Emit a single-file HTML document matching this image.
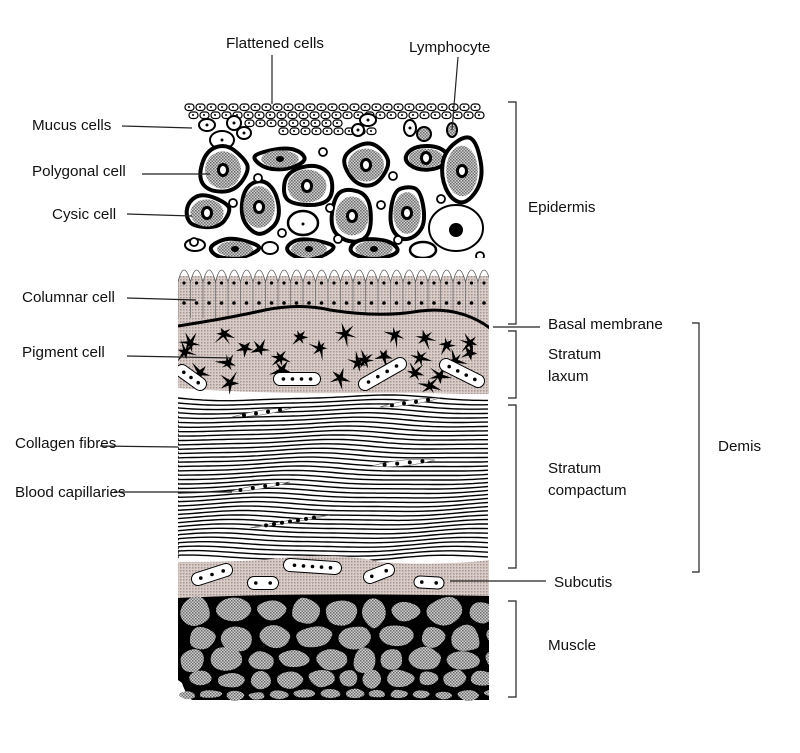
<!DOCTYPE html>
<html><head><meta charset="utf-8"><style>
html,body{margin:0;padding:0;background:#fff;}
svg{display:block;}
text{font-family:"Liberation Sans",sans-serif;font-size:15.2px;fill:#111;}
</style></head><body>
<svg id="s" width="800" height="753" viewBox="0 0 800 753" xmlns="http://www.w3.org/2000/svg">
<defs>
<pattern id="pk" width="3" height="3" patternUnits="userSpaceOnUse"><rect width="3" height="3" fill="#d8ccc8"/><rect width="1.5" height="1.5" fill="#a8958f"/></pattern>
<pattern id="gr" width="3" height="3" patternUnits="userSpaceOnUse"><rect width="3" height="3" fill="#d0d0d0"/><rect width="1.5" height="1.5" fill="#6a6a6a"/><rect x="1.5" y="1.5" width="1.5" height="1.5" fill="#777"/></pattern>
<clipPath id="cl"><rect x="178" y="0" width="311" height="753"/></clipPath>
</defs>
<g id="g" clip-path="url(#cl)"></g>
<g stroke="#222" stroke-width="1.2" fill="none">
<line x1="272" y1="55" x2="272" y2="104"/>
<line x1="458" y1="57" x2="452" y2="130"/>
<line x1="122" y1="126" x2="192" y2="128"/>
<line x1="142" y1="174" x2="210" y2="174"/>
<line x1="127" y1="214" x2="192" y2="216"/>
<line x1="127" y1="298" x2="196" y2="300"/>
<line x1="127" y1="356" x2="232" y2="358"/>
<line x1="100" y1="446" x2="178" y2="447"/>
<line x1="114" y1="492" x2="232" y2="492"/>
<line x1="493" y1="327" x2="540" y2="327"/>
<line x1="450" y1="581" x2="546" y2="581"/>
<polyline points="508,102 516,102 516,324 508,324"/>
<polyline points="508,331 516,331 516,398 508,398"/>
<polyline points="508,405 516,405 516,568 508,568"/>
<polyline points="508,601 516,601 516,697 508,697"/>
<polyline points="692,323 699,323 699,572 692,572"/>
</g>
<text x="226" y="48">Flattened cells</text>
<text x="409" y="52">Lymphocyte</text>
<text x="32" y="130">Mucus cells</text>
<text x="32" y="176">Polygonal cell</text>
<text x="52" y="219">Cysic cell</text>
<text x="22" y="302">Columnar cell</text>
<text x="22" y="357">Pigment cell</text>
<text x="15" y="448">Collagen fibres</text>
<text x="15" y="497">Blood capillaries</text>
<text x="528" y="212">Epidermis</text>
<text x="548" y="329">Basal membrane</text>
<text x="548" y="359">Stratum</text>
<text x="548" y="381">laxum</text>
<text x="548" y="473">Stratum</text>
<text x="548" y="495">compactum</text>
<text x="718" y="451">Demis</text>
<text x="554" y="587">Subcutis</text>
<text x="548" y="650">Muscle</text>
</svg>
<script>
var g=document.getElementById('g'),h='';
var sd=7;function r(){sd=(sd*16807)%2147483647;return sd/2147483647;}
for(var row=0;row<4;row++){var y=104+row*8,x0=185+(row%2)*4;var n=row<2?27:14;for(var i=0;i<n;i++){var x=x0+i*11;if(row>=2)x+=row==2?60:90;if(row>=2&&i>8)continue;h+='<rect x="'+x+'" y="'+y+'" width="9" height="6.5" rx="3" fill="#fff" stroke="#000" stroke-width="1.2"/><circle cx="'+(x+4)+'" cy="'+(y+3)+'" r="1" fill="#000"/>';}}
[[207,125,8,6],[222,140,12,9],[234,123,7,7],[244,133,7,6],[358,130,6,6],[368,120,8,6],[410,128,6,8],[424,134,7,7],[452,130,5,7]].forEach(function(c,i){h+='<ellipse cx="'+c[0]+'" cy="'+c[1]+'" rx="'+c[2]+'" ry="'+c[3]+'" fill="'+(i>=7?'url(#gr)':'#fff')+'" stroke="#000" stroke-width="2"/>';if(i<7)h+='<circle cx="'+c[0]+'" cy="'+c[1]+'" r="1.5" fill="#000"/>';});
function blob(cx,cy,rx,ry){var pts=[],k,n=7;for(k=0;k<n;k++){var a=k*2*Math.PI/n+r()*0.5,f=0.92+r()*0.16;pts.push([cx+rx*f*Math.cos(a),cy+ry*f*Math.sin(a)]);}var d='';for(k=0;k<n;k++){var p=pts[k],q=pts[(k+1)%n];var m=[(p[0]+q[0])/2,(p[1]+q[1])/2];if(k==0){var pm=pts[n-1];d='M'+((pm[0]+p[0])/2).toFixed(1)+','+((pm[1]+p[1])/2).toFixed(1);}d+=' Q'+p[0].toFixed(1)+','+p[1].toFixed(1)+' '+m[0].toFixed(1)+','+m[1].toFixed(1);}return d+'Z';}
var C=[[223,170,25,26],[280,159,26,12],[307,186,27,23],[366,165,25,23],[426,158,24,13],[462,171,22,35],[207,213,23,19],[259,207,22,29],[352,216,23,27],[407,213,19,29],[235,249,25,11],[309,249,25,11],[374,249,26,11]];
C.forEach(function(c){h+='<path d="'+blob(c[0],c[1],c[2],c[3])+'" fill="#fff" stroke="#000" stroke-width="4"/><ellipse cx="'+c[0]+'" cy="'+c[1]+'" rx="'+(c[2]*0.72)+'" ry="'+(c[3]*0.72)+'" fill="url(#gr)"/>';if(c[3]>12)h+='<ellipse cx="'+c[0]+'" cy="'+c[1]+'" rx="6" ry="7" fill="#000"/><ellipse cx="'+c[0]+'" cy="'+c[1]+'" rx="3" ry="4" fill="#fff"/>';else h+='<ellipse cx="'+c[0]+'" cy="'+c[1]+'" rx="4" ry="3" fill="#000"/>';});
h+='<ellipse cx="303" cy="223" rx="15" ry="12" fill="#fff" stroke="#000" stroke-width="2.5"/><circle cx="303" cy="224" r="1.5"/>';
h+='<ellipse cx="456" cy="228" rx="27" ry="23" fill="#fff" stroke="#000" stroke-width="2"/><circle cx="456" cy="230" r="7" fill="#000"/>';
h+='<ellipse cx="423" cy="250" rx="13" ry="8" fill="#fff" stroke="#000" stroke-width="2.5"/><ellipse cx="195" cy="245" rx="10" ry="6" fill="#fff" stroke="#000" stroke-width="2"/><ellipse cx="270" cy="248" rx="8" ry="6" fill="#fff" stroke="#000" stroke-width="2"/>';
[[323,152],[258,178],[233,203],[282,233],[330,208],[393,176],[381,205],[338,239],[398,240],[441,199],[194,242],[480,256]].forEach(function(p){h+='<circle cx="'+p[0]+'" cy="'+p[1]+'" r="4" fill="#fff" stroke="#000" stroke-width="1.8"/>';});
h+='<rect x="178" y="276" width="312" height="60" fill="url(#pk)"/>';
var p='M178,282';for(var x=178;x<490;x+=12.5){p+=' Q'+(x+6)+',258 '+(x+12.5)+',282';}
h+='<path d="'+p+' L490,258 L178,258Z" fill="#fff"/><path d="'+p+'" fill="none" stroke="#555" stroke-width="0.8"/>';
for(var x=178;x<490;x+=12.5){h+='<line x1="'+x+'" y1="282" x2="'+x+'" y2="318" stroke="#666" stroke-width="0.7"/><circle cx="'+(x+6)+'" cy="283" r="1.6"/><circle cx="'+(x+6)+'" cy="303" r="1.8"/>';}
h+='<path d="M178,326 Q230,318 265,310 Q300,303 330,310 Q380,318 420,311 Q460,306 490,328 L490,395 Q420,392 350,393 Q260,394 178,388Z" fill="url(#pk)"/>';
h+='<path d="M178,326 Q230,318 265,310 Q300,303 330,310 Q380,318 420,311 Q460,306 490,328" fill="none" stroke="#000" stroke-width="3"/>';
function star(cx,cy,s){var q='';var n=5+Math.floor(r()*2);for(var k=0;k<2*n;k++){var a=k*Math.PI/n+r()*0.4,rr=(k%2?s*0.3:s*(0.7+r()*0.7));q+=(cx+rr*Math.cos(a)).toFixed(1)+','+(cy+rr*Math.sin(a)).toFixed(1)+' ';}return '<polygon points="'+q+'" fill="#000"/>';}
[[190,335],[224,326],[245,340],[300,329],[345,326],[395,327],[425,330],[447,337],[470,335],[185,344],[228,355],[260,341],[280,350],[320,340],[358,355],[384,348],[420,350],[455,353],[470,345],[200,365],[230,375],[282,362],[340,370],[365,352],[415,365],[430,378],[440,368]].forEach(function(s){h+=star(s[0],s[1]+8,10);});
function cap(x1,y1,x2,y2,w,n){var d='<line x1="'+x1+'" y1="'+y1+'" x2="'+x2+'" y2="'+y2+'" stroke="#000" stroke-width="'+(w+2)+'" stroke-linecap="round"/><line x1="'+x1+'" y1="'+y1+'" x2="'+x2+'" y2="'+y2+'" stroke="#fff" stroke-width="'+w+'" stroke-linecap="round"/>';for(var k=0;k<n;k++){var t=n==1?0.5:k/(n-1)*0.8+0.1;d+='<circle cx="'+(x1+(x2-x1)*t)+'" cy="'+(y1+(y2-y1)*t)+'" r="1.8"/>';}return d;}
h+=cap(182,371,200,384,12,3)+cap(280,379,314,379,12,4)+cap(365,384,400,364,12,4)+cap(446,365,478,381,12,4);
h+='<rect x="178" y="394" width="312" height="166" fill="#fff"/>';
for(var i=0;i<37;i++){var y=398+i*4.45;var ph=i*0.12;var d='M178,'+y.toFixed(1);for(var x=178;x<=492;x+=5){var yy=y+2.5*Math.sin((x-178)/42+ph)+0.7*Math.sin((x-178)/20+i*0.3);d+=' L'+x+','+yy.toFixed(1);}h+='<path d="'+d+'" fill="none" stroke="#000" stroke-width="1.4"/>';}
function cap2(x1,y1,x2,y2,n){var d='<path d="M'+x1+','+y1+' Q'+((x1+x2)/2)+','+(y1-9)+' '+x2+','+y2+' Q'+((x1+x2)/2)+','+(y2+9)+' '+x1+','+y1+'Z" fill="#fff" stroke="#555" stroke-width="0.6"/>';for(var k=0;k<n;k++){var t=0.2+0.6*k/(n-1);d+='<circle cx="'+(x1+(x2-x1)*t)+'" cy="'+(y1+(y2-y1)*t)+'" r="2"/>';}return d;}
h+=cap2(380,407,440,398,4)+cap2(232,417,292,408,4)+cap2(372,466,435,460,4)+cap2(228,492,290,482,4)+cap2(250,528,330,515,7);
h+='<path d="M178,562 Q250,562 280,558 Q340,552 380,562 Q440,566 490,560 L490,600 L178,600Z" fill="url(#pk)"/>';
h+=cap(198,579,226,570,12,3)+cap(254,583,272,583,12,2)+cap(290,565,335,568,12,5)+cap(370,577,388,570,12,2)+cap(420,582,438,583,11,2);
h+='<path d="M178,598 Q300,592 490,596 L490,700 L192,700 Q186,695 182,683 L178,680Z" fill="#000"/>';
var rows=[[610,17,14],[636,17,13],[658,16,12],[678,13,9],[693,11,5]];
rows.forEach(function(rw,j){var x=179+(j%2)*9;while(x<495){var rx=rw[1]*(0.75+r()*0.45),ry=rw[2]*(0.8+r()*0.35);h+='<path d="'+blob(x+rx,rw[0]+r()*3,rx,ry)+'" fill="url(#gr)"/>';x+=2*rx+3;}});
g.innerHTML=h;
</script>
</body></html>
